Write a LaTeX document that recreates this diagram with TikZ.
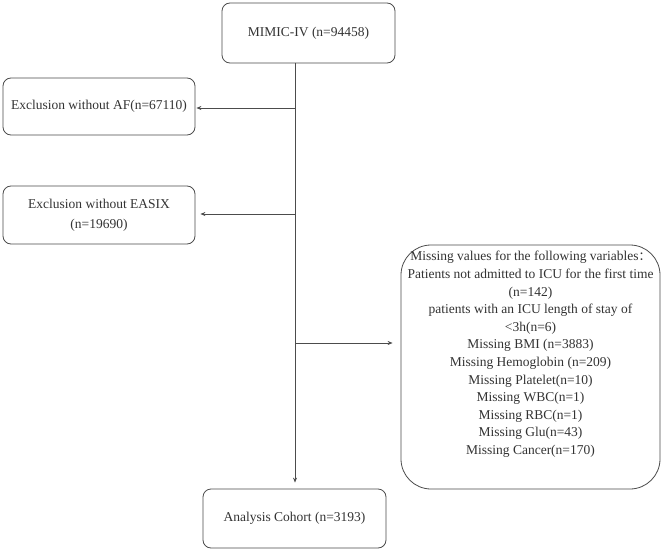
\documentclass[tikz,border=0pt]{standalone}
\usepackage{fontspec}
\setmainfont{Liberation Serif}
\newfontfamily\cjkfont{Noto Sans CJK SC}
\usetikzlibrary{arrows.meta}
\begin{document}
\begin{tikzpicture}[x=1pt,y=-1pt,
  box/.style={draw=black!70, line width=0.8pt, rounded corners=8pt, align=center,
    font=\fontsize{13.5}{17.6}\selectfont, text=black!80, inner sep=0pt},
  arr/.style={draw=black!70, line width=0.8pt, -{Stealth[length=5pt,width=4pt]}},
  ln/.style={draw=black!70, line width=0.8pt}]
\fill[white] (0,0) rectangle (667,551);
\useasboundingbox (0,0) rectangle (667,551);
\node[box, minimum width=173pt, minimum height=60pt] (top) at (308.5,33) {MIMIC-IV (n=94458)};
\node[box, minimum width=192pt, minimum height=57pt] (af) at (99,106.5) {Exclusion without AF(n=67110)};
\node[box, minimum width=192pt, minimum height=58pt, font=\fontsize{13.5}{20}\selectfont] (ea) at (99,215) {Exclusion without EASIX\\(n=19690)};
\node[box, rounded corners=30pt, minimum width=259pt, minimum height=244pt] (miss) at (530.5,367)
 {Missing values for the following variables{\cjkfont\fontsize{12}{17.6}\selectfont ：}\\
  Patients not admitted to ICU for the first time\\
  (n=142)\\
  patients with an ICU length of stay of\\
  \textless3h(n=6)\\
  Missing BMI (n=3883)\\
  Missing Hemoglobin (n=209)\\
  Missing Platelet(n=10)\\
  Missing WBC(n=1)\\
  Missing RBC(n=1)\\
  Missing Glu(n=43)\\
  Missing Cancer(n=170)\rule[-28pt]{0pt}{0pt}};
\node[box, minimum width=183pt, minimum height=59pt] (an) at (294.5,518.5) {Analysis Cohort (n=3193)};
\coordinate (s0) at (295,63);
\coordinate (s1) at (295,108);
\coordinate (s2) at (295,214);
\coordinate (s3) at (295,343);
\draw[arr, shorten >=6pt] (s0) -- (an.north -| s0);
\draw[arr, shorten >=1pt] (s1) -- (s1 -| af.east);
\draw[arr, shorten >=5pt] (s2) -- (s2 -| ea.east);
\draw[arr, shorten >=8pt] (s3) -- (s3 -| miss.west);
\end{tikzpicture}
\end{document}
